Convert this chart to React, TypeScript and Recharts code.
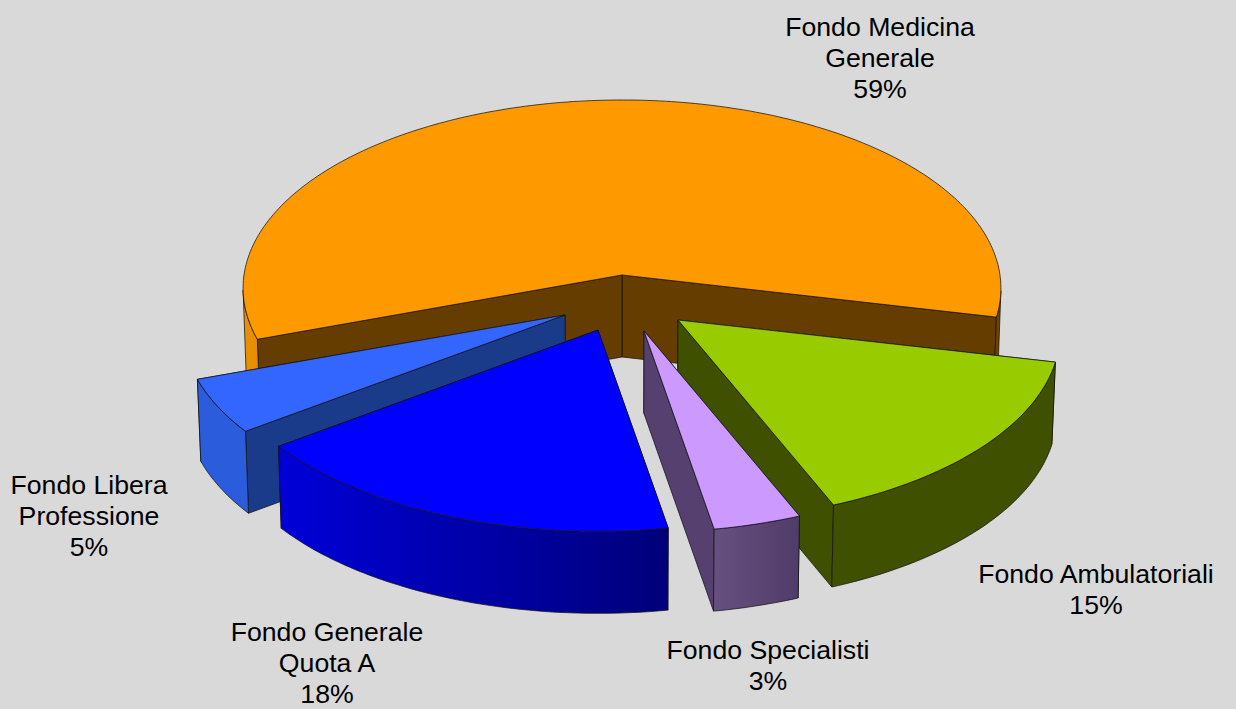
import { Pie, PieChart } from "recharts";

const sliceNames = [
  "Fondo Medicina Generale",
  "Fondo Libera Professione",
  "Fondo Generale Quota A",
  "Fondo Specialisti",
  "Fondo Ambulatoriali",
];
const sliceValues = [59, 4.7, 17.6, 3.49, 15.21];
const labelLines = [
  ["Fondo Medicina", "Generale"],
  ["Fondo Libera", "Professione"],
  ["Fondo Generale", "Quota A"],
  ["Fondo Specialisti"],
  ["Fondo Ambulatoriali"],
];

const pieData = sliceNames.map((name, i) => ({ name, value: sliceValues[i] }));

// look of each slice, same order as sliceNames
const topColors = ["#ff9900", "#3366ff", "#0000ff", "#cc99ff", "#99cc00"];
const innerColors = ["#663d00", "#1a3a8a", "#000080", "#55406f", "#3f5000"];
const wallFills = ["url(#wall0)", "#2a5cdc", "url(#wall2)", "url(#wall3)", "#3f5000"];
const explode = [
  [0, 0],
  [-57, 40],
  [-24, 55],
  [22, 56],
  [56, 45],
];
const widen = [1, 1.008, 1.008, 1.008, 1.008]; // pulled-out slices are nearer, so a bit wider
const labelPos = [
  [880, 36],
  [89, 494],
  [327, 641],
  [768, 659],
  [1096, 583],
];

const CX = 622;
const CY = 275;
const RX = 378;
const RY = 187.25; // vertical squash of the disc
const PERSP = 0.07;
const DEPTH = 82;
const BOTTOM_SCALE = 0.992;
const LINE = "rgba(20,20,20,0.75)";

// tilted disc: angle in degrees -> offset from the pie centre
function project(angle: number, k = 1) {
  const a = (angle * Math.PI) / 180;
  const c = Math.cos(a);
  const s = Math.sin(a);
  const w = 1 / (1 + PERSP * s);
  return [RX * k * c * w, -RY * s * w];
}

const toPath = (pts: number[][]) =>
  "M" + pts.map((p) => `${p[0].toFixed(1)},${p[1].toFixed(1)}`).join("L") + "Z";

function Slice3D(props: any) {
  const { name, startAngle, endAngle } = props;
  const i = sliceNames.indexOf(name);
  const [dx, dy] = explode[i];
  const top = (p: number[]) => [CX + dx + p[0], CY + dy + p[1]];
  const bottom = (p: number[]) => [
    CX + (dx + p[0]) * BOTTOM_SCALE,
    CY + dy + p[1] + DEPTH,
  ];

  const arc: number[][] = [];
  const runs: number[][][] = []; // parts of the rim that face the viewer
  let run: number[][] = [];
  const steps = Math.max(8, Math.ceil(Math.abs(endAngle - startAngle) / 1));
  for (let k = 0; k <= steps; k++) {
    const angle = startAngle + ((endAngle - startAngle) * k) / steps;
    const p = project(angle, widen[i]);
    arc.push(p);
    if (Math.sin((angle * Math.PI) / 180) < -PERSP) {
      run.push(p);
    } else if (run.length) {
      runs.push(run);
      run = [];
    }
  }
  if (run.length) runs.push(run);

  const apex = [0, 0];
  const first = arc[0];
  const last = arc[arc.length - 1];
  const side = (p: number[]) =>
    toPath([top(apex), top(p), bottom(p), bottom(apex)]);
  // the cut face that reaches lower on screen is nearer, so it goes on top
  const [backSide, frontSide] = first[1] < last[1] ? [first, last] : [last, first];

  return (
    <g stroke={LINE} strokeWidth={1} strokeLinejoin="round">
      <path d={side(backSide)} fill={innerColors[i]} />
      <path d={side(frontSide)} fill={innerColors[i]} />
      {runs.map((r, k) => (
        <path
          key={k}
          d={toPath([...r.map(top), ...[...r].reverse().map(bottom)])}
          fill={wallFills[i]}
        />
      ))}
      <path d={toPath([top(apex), ...arc.map(top)])} fill={topColors[i]} />
    </g>
  );
}

// the Specialisti slice sits in front of Ambulatoriali, so it goes in a second pass
const FIRST_PASS = (props: any) =>
  props.name === "Fondo Specialisti" ? <g /> : <Slice3D {...props} />;
const SECOND_PASS = (props: any) =>
  props.name === "Fondo Specialisti" ? <Slice3D {...props} /> : <g />;

function renderLabel(props: any) {
  const i = sliceNames.indexOf(props.name);
  const [x, y] = labelPos[i];
  const lines = [...labelLines[i], `${Math.round(sliceValues[i])}%`];
  return (
    <text
      key={props.name}
      x={x}
      y={y}
      textAnchor="middle"
      fontFamily="Liberation Sans, Arial, sans-serif"
      fontSize={26.67}
      fill="#000"
      stroke="none"
    >
      {lines.map((line, k) => (
        <tspan key={k} x={x} y={y + k * 31}>
          {line}
        </tspan>
      ))}
    </text>
  );
}

export default function App() {
  return (
    <div
      style={{
        position: "absolute",
        left: 0,
        top: 0,
        width: 1236,
        height: 709,
        background: "#d9d9d9",
      }}
    >
      <PieChart width={1236} height={709} margin={{ top: 0, right: 0, bottom: 0, left: 0 }}>
        <defs>
          <linearGradient id="wall0" gradientUnits="userSpaceOnUse" x1="243" y1="0" x2="1001" y2="0">
            <stop offset="0%" stopColor="#e89000" />
            <stop offset="100%" stopColor="#6e4200" />
          </linearGradient>
          <linearGradient id="wall2" x1="0" y1="0" x2="1" y2="0">
            <stop offset="0%" stopColor="#0000d8" />
            <stop offset="100%" stopColor="#00007a" />
          </linearGradient>
          <linearGradient id="wall3" x1="0" y1="0" x2="1" y2="0">
            <stop offset="0%" stopColor="#665080" />
            <stop offset="100%" stopColor="#503c68" />
          </linearGradient>
        </defs>
        <Pie
          data={pieData}
          dataKey="value"
          nameKey="name"
          cx={CX}
          cy={CY}
          innerRadius={0}
          outerRadius={RX}
          startAngle={-12.8}
          endAngle={347.2}
          paddingAngle={0}
          stroke="none"
          shape={FIRST_PASS}
          label={renderLabel}
          labelLine={false}
          isAnimationActive={false}
        />
        <Pie
          data={pieData}
          dataKey="value"
          nameKey="name"
          cx={CX}
          cy={CY}
          innerRadius={0}
          outerRadius={RX}
          startAngle={-12.8}
          endAngle={347.2}
          paddingAngle={0}
          stroke="none"
          shape={SECOND_PASS}
          label={false}
          labelLine={false}
          isAnimationActive={false}
        />
      </PieChart>
    </div>
  );
}
